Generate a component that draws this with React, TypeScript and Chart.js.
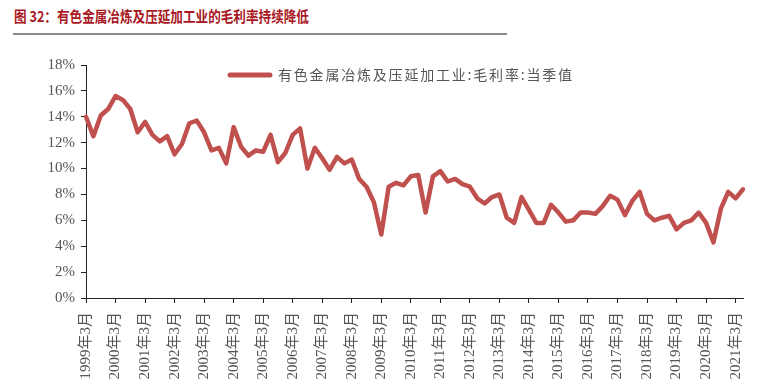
import React, { useEffect, useRef } from "react";
import { Chart, registerables } from "chart.js";

Chart.register(...registerables);

const TITLE = "图 32：有色金属冶炼及压延加工业的毛利率持续降低";
const SERIES_LABEL = "有色金属冶炼及压延加工业:毛利率:当季值";
const FIRST_YEAR = 1999;
const QUARTER_MONTHS = [3, 6, 9, 12];
const Y_TICKS_STEP = 2;
const Y_MIN = 0;
const Y_MAX = 18;

// gross margin (%) per quarter, 1999Q1 .. 2021Q2
const marginValues = [
  14.0, 12.5, 14.1, 14.6, 15.6, 15.3, 14.6, 12.8, 13.6, 12.6,
  12.1, 12.5, 11.1, 11.9, 13.5, 13.7, 12.8, 11.4, 11.6, 10.4,
  13.2, 11.7, 11.0, 11.4, 11.3, 12.6, 10.5, 11.2, 12.6, 13.1,
  10.0, 11.6, 10.8, 9.9, 10.9, 10.4, 10.7, 9.2, 8.6, 7.4,
  4.9, 8.6, 8.9, 8.7, 9.4, 9.5, 6.6, 9.4, 9.8, 9.0,
  9.2, 8.8, 8.6, 7.7, 7.3, 7.8, 8.0, 6.2, 5.8, 7.8,
  6.8, 5.8, 5.8, 7.2, 6.6, 5.9, 6.0, 6.6, 6.6, 6.5,
  7.1, 7.9, 7.6, 6.4, 7.5, 8.2, 6.5, 6.0, 6.2, 6.35,
  5.3, 5.8, 6.0, 6.6, 5.8, 4.3, 6.9, 8.2, 7.7, 8.4,
];

const categories: string[] = marginValues.map((_, i) => {
  const year = FIRST_YEAR + Math.floor(i / 4);
  const month = QUARTER_MONTHS[i % 4];
  return `${year}年${month}月`;
});

const LINE_COLOR = "#c0504d";
const TEXT_COLOR = "#555555";
const AXIS_COLOR = "#222222";
const SERIF = "'Liberation Serif', 'Noto Sans CJK SC', serif";

const legendPlugin = {
  id: "manualLegend",
  afterDatasetsDraw(chart: any) {
    const ds = chart.data.datasets[0];
    const ctx = chart.ctx as CanvasRenderingContext2D;
    ctx.save();
    ctx.strokeStyle = ds.borderColor;
    ctx.lineWidth = 5;
    ctx.lineCap = "round";
    ctx.beginPath();
    ctx.moveTo(230, 75);
    ctx.lineTo(270, 75);
    ctx.stroke();
    ctx.font = "14px 'Noto Sans CJK SC'";
    ctx.fillStyle = TEXT_COLOR;
    ctx.textBaseline = "middle";
    (ctx as any).letterSpacing = "1.8px";
    ctx.fillText(ds.label, 278, 75);
    ctx.restore();
  },
};

export default function App() {
  const canvasRef = useRef<HTMLCanvasElement | null>(null);

  useEffect(() => {
    if (!canvasRef.current) return;
    const chart = new Chart(canvasRef.current, {
      type: "line",
      data: {
        labels: categories,
        datasets: [
          {
            label: SERIES_LABEL,
            data: marginValues,
            borderColor: LINE_COLOR,
            backgroundColor: LINE_COLOR,
            borderWidth: 4.5,
            pointRadius: 0,
            tension: 0,
            borderJoinStyle: "round",
            borderCapStyle: "round",
          },
        ],
      },
      options: {
        animation: false,
        responsive: false,
        devicePixelRatio: 1,
        layout: { padding: { left: 0, right: 22, top: 65, bottom: 0 } },
        plugins: {
          legend: { display: false },
          title: { display: false },
          tooltip: { enabled: false },
        },
        scales: {
          x: {
            type: "category",
            offset: false,
            afterFit: (s: any) => {
              s.height = 92;
            },
            grid: {
              drawOnChartArea: false,
              drawTicks: true,
              tickLength: 5,
              color: AXIS_COLOR,
              tickColor: AXIS_COLOR,
            },
            border: { color: AXIS_COLOR, width: 1 },
            ticks: {
              autoSkip: false,
              maxRotation: 90,
              minRotation: 90,
              padding: 9,
              color: TEXT_COLOR,
              font: { family: SERIF, size: 15 },
              callback: (_v: any, index: number) =>
                index % 4 === 0 ? categories[index] : null,
            },
          },
          y: {
            min: Y_MIN,
            max: Y_MAX,
            afterFit: (s: any) => {
              s.width = 86;
            },
            grid: {
              drawOnChartArea: false,
              drawTicks: true,
              tickLength: 5,
              color: AXIS_COLOR,
              tickColor: AXIS_COLOR,
            },
            border: { color: AXIS_COLOR, width: 1 },
            ticks: {
              stepSize: Y_TICKS_STEP,
              padding: 6,
              color: TEXT_COLOR,
              font: { family: SERIF, size: 15 },
              callback: (v: any) => `${v}%`,
            },
          },
        },
      },
      plugins: [legendPlugin],
    });
    return () => chart.destroy();
  }, []);

  return (
    <div
      style={{
        position: "fixed",
        left: 0,
        top: 0,
        width: 765,
        height: 390,
        background: "#ffffff",
        overflow: "hidden",
      }}
    >
      <div
        style={{
          position: "absolute",
          left: 14,
          top: 6,
          fontFamily: "'Noto Sans CJK SC', sans-serif",
          fontWeight: 700,
          fontSize: 15,
          color: "#a8171e",
          whiteSpace: "nowrap",
          transform: "scaleX(0.84)",
          transformOrigin: "0 0",
          lineHeight: "20px",
        }}
      >
        {TITLE}
      </div>
      <div
        style={{
          position: "absolute",
          left: 13,
          top: 33,
          width: 494,
          height: 2,
          background: "#8a8a8a",
        }}
      />
      <canvas
        ref={canvasRef}
        width={765}
        height={390}
        style={{ position: "absolute", left: 0, top: 0, display: "block" }}
      />
    </div>
  );
}
